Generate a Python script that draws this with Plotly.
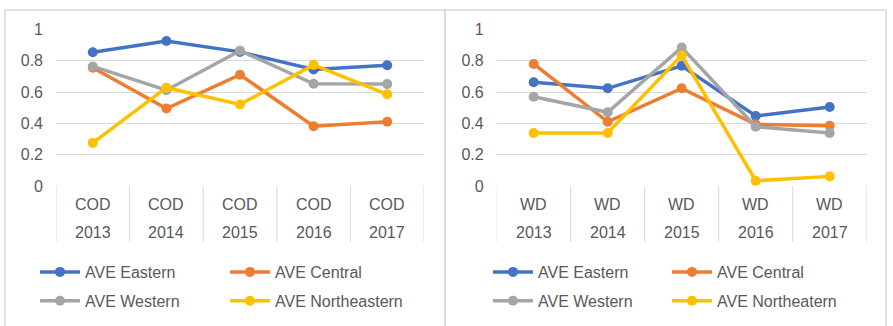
import plotly.graph_objects as go

W, H = 893, 326

years = ["2013", "2014", "2015", "2016", "2017"]
left_prefix = "COD"
right_prefix = "WD"

series_names_left = ["AVE Eastern", "AVE Central", "AVE Western", "AVE Northeastern"]
series_names_right = ["AVE Eastern", "AVE Central", "AVE Western", "AVE Northeatern"]
colors = ["#4472C4", "#ED7D31", "#A5A5A5", "#FFC000"]

cod_eastern = [0.855, 0.927, 0.857, 0.744, 0.772]
cod_central = [0.756, 0.495, 0.711, 0.382, 0.410]
cod_western = [0.764, 0.612, 0.865, 0.653, 0.651]
cod_northeastern = [0.275, 0.628, 0.521, 0.774, 0.586]

wd_eastern = [0.663, 0.624, 0.768, 0.447, 0.505]
wd_central = [0.780, 0.410, 0.624, 0.394, 0.384]
wd_western = [0.570, 0.471, 0.885, 0.378, 0.338]
wd_northeatern = [0.338, 0.338, 0.835, 0.033, 0.061]

y_ticks = [0, 0.2, 0.4, 0.6, 0.8, 1]

TXT = "#595959"
GRID = "#d9d9d9"
FONT = "Liberation Sans"
FS = 16

def px_x(p):
    return p / W

def px_y(p):
    return 1 - p / H

fig = go.Figure()

left_series = [cod_eastern, cod_central, cod_western, cod_northeastern]
right_series = [wd_eastern, wd_central, wd_western, wd_northeatern]
left_cats = [f"{left_prefix} {y}" for y in years]
right_cats = [f"{right_prefix} {y}" for y in years]

for i, (name, vals) in enumerate(zip(series_names_left, left_series)):
    fig.add_trace(go.Scatter(
        x=left_cats, y=vals, name=name, mode="lines+markers",
        line=dict(color=colors[i], width=3.5), marker=dict(size=10, color=colors[i]),
        xaxis="x", yaxis="y", legend="legend" if i < 2 else "legend2",
    ))
for i, (name, vals) in enumerate(zip(series_names_right, right_series)):
    fig.add_trace(go.Scatter(
        x=right_cats, y=vals, name=name, mode="lines+markers",
        line=dict(color=colors[i], width=3.5), marker=dict(size=10, color=colors[i]),
        xaxis="x2", yaxis="y2", legend="legend3" if i < 2 else "legend4",
    ))

y_top, y_bot = 22.7, 187.7
ydom = [px_y(y_bot), px_y(y_top)]
left_dom = [px_x(56), px_x(424)]
right_dom = [px_x(496.7), px_x(866.7)]

xcommon = dict(type="category", range=[-0.5, len(years) - 0.5], showgrid=False,
               showticklabels=False, showline=False, zeroline=False, ticks="")
ycommon = dict(range=[0, 1], tickvals=y_ticks, ticktext=[f"{v:g}" for v in y_ticks],
               showgrid=True, gridcolor=GRID, gridwidth=1, zeroline=False, showline=False,
               tickfont=dict(family=FONT, size=FS, color=TXT), ticklabelstandoff=12, domain=ydom)

fig.update_layout(
    width=W, height=H, margin=dict(l=0, r=0, t=0, b=0),
    paper_bgcolor="white", plot_bgcolor="white",
    font=dict(family=FONT, size=FS, color=TXT),
    xaxis=dict(domain=left_dom, anchor="y", categoryarray=left_cats, **xcommon),
    yaxis=dict(anchor="x", **ycommon),
    xaxis2=dict(domain=right_dom, anchor="y2", categoryarray=right_cats, **xcommon),
    yaxis2=dict(anchor="x2", **ycommon),
)

shapes = []
annotations = []
bottom_ext = px_y(247)
for ax, cats, prefix in [("x", left_cats, left_prefix), ("x2", right_cats, right_prefix)]:
    for k in range(len(cats) + 1):
        shapes.append(dict(type="line", xref=ax, yref="paper", x0=k - 0.5, x1=k - 0.5,
                           y0=px_y(y_bot), y1=bottom_ext, line=dict(color=GRID, width=1)))
    for k, yr in enumerate(years):
        annotations.append(dict(xref=ax, yref="paper", x=k, y=px_y(207), text=prefix,
                                showarrow=False, xanchor="center", yanchor="middle",
                                font=dict(family=FONT, size=FS, color=TXT)))
        annotations.append(dict(xref=ax, yref="paper", x=k, y=px_y(237), text=yr,
                                showarrow=False, xanchor="center", yanchor="middle",
                                font=dict(family=FONT, size=FS, color=TXT)))

# panel borders
for x0, x1 in [(5, 445), (445, 886)]:
    shapes.append(dict(type="rect", xref="paper", yref="paper", x0=px_x(x0), x1=px_x(x1),
                       y0=-0.1, y1=px_y(2), line=dict(color=GRID, width=1.5),
                       fillcolor="rgba(0,0,0,0)", layer="below"))

fig.update_layout(shapes=shapes, annotations=annotations)

def leg(x, y, ew):
    return dict(orientation="h", x=px_x(x), y=px_y(y), xanchor="left", yanchor="middle",
                entrywidth=ew, entrywidthmode="pixels", bgcolor="rgba(0,0,0,0)",
                font=dict(family=FONT, size=FS, color=TXT), itemwidth=40, traceorder="normal")

fig.update_layout(
    legend=leg(35, 278.5, 135),
    legend2=leg(35, 309, 135),
    legend3=leg(488, 278.5, 124),
    legend4=leg(488, 309, 124),
)

fig.write_html("out.html")
